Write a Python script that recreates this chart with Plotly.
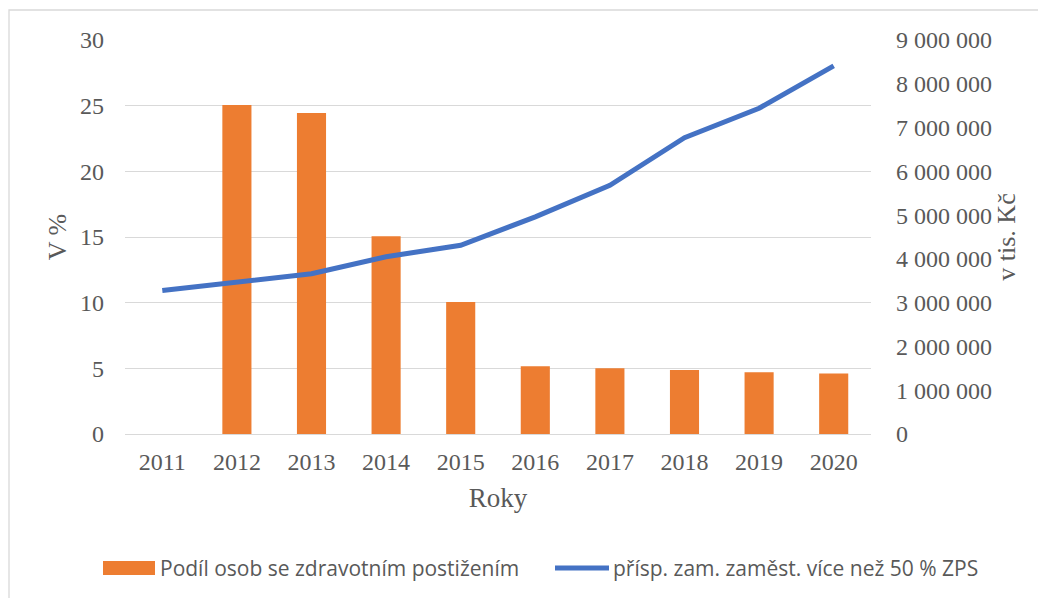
import plotly.graph_objects as go

years = ["2011", "2012", "2013", "2014", "2015", "2016", "2017", "2018", "2019", "2020"]
podil_zps = [None, 25.05, 24.45, 15.05, 10.05, 5.15, 5.0, 4.88, 4.7, 4.6]
prispevek = [3280000, 3470000, 3660000, 4050000, 4310000, 4960000, 5680000, 6770000, 7440000, 8410000]

bar_name = "Podíl osob se zdravotním postižením"
line_name = "přísp. zam. zaměst. více než 50 % ZPS"
left_title = "V %"
right_title = "v tis. Kč"
x_title = "Roky"

ORANGE = "#ED7D31"
BLUE = "#4472C4"
GRID = "#D9D9D9"
TXT = "#595959"
SERIF = "Liberation Serif, Times New Roman, serif"

fig = go.Figure()
fig.add_trace(go.Bar(x=years, y=podil_zps, name=bar_name, marker_color=ORANGE,
                     marker_line_width=0, yaxis="y"))
fig.add_trace(go.Scatter(x=years, y=prispevek, name=line_name, mode="lines",
                         line=dict(color=BLUE, width=5), yaxis="y2"))

# page body has an 8px margin, so the figure is placed at (8, 8) on screen
OFF = 8
W, H = 1046 - OFF, 598 - OFF
L, T = 125 - OFF, 40 - OFF
R = W - (871 - OFF)
B = H - (434 - OFF)
pw, ph = W - L - R, H - T - B

def px(x):  # screen x -> paper
    return (x - OFF - L) / pw

def py(y):  # screen y -> paper
    return (H - B - (y - OFF)) / ph

fig.update_layout(
    width=W, height=H,
    margin=dict(l=L, r=R, t=T, b=B),
    paper_bgcolor="white", plot_bgcolor="white",
    separators=", ",
    showlegend=False,
    bargap=0.61,
    xaxis=dict(type="category", showgrid=False, showline=False, zeroline=False,
               ticks="", tickfont=dict(family=SERIF, size=24, color=TXT),
               ticklabelstandoff=11,
               title=dict(text=x_title, font=dict(family=SERIF, size=27, color=TXT), standoff=14)),
    yaxis=dict(range=[0, 30], dtick=5, showgrid=True, gridcolor=GRID, gridwidth=1.3,
               zeroline=True, zerolinecolor=GRID, zerolinewidth=1.3, showline=False,
               ticks="", tickfont=dict(family=SERIF, size=24, color=TXT),
               ticklabelstandoff=20,
               title=dict(text=left_title, font=dict(family=SERIF, size=26, color=TXT), standoff=5)),
    yaxis2=dict(range=[0, 9000000], dtick=1000000, overlaying="y", side="right",
                showgrid=False, zeroline=False, showline=False, ticks="",
                tickformat=",d", tickfont=dict(family=SERIF, size=24, color=TXT),
                ticklabelstandoff=24,
                title=dict(text=right_title, font=dict(family=SERIF, size=26, color=TXT), standoff=4)),
)

# chart border (outer frame)
fig.add_shape(type="rect", xref="paper", yref="paper",
              x0=px(9), x1=px(1200), y0=py(10), y1=py(700),
              line=dict(color=GRID, width=1.3), fillcolor="rgba(0,0,0,0)", layer="below")

# custom legend
ly = py(568)
fig.add_shape(type="rect", xref="paper", yref="paper",
              x0=px(103), x1=px(155), y0=py(561), y1=py(575),
              fillcolor=ORANGE, line_width=0)
fig.add_annotation(xref="paper", yref="paper", x=px(158), y=ly, xanchor="left", yanchor="middle",
                   text=bar_name, showarrow=False,
                   font=dict(family="Open Sans, sans-serif", size=21, color=TXT))
fig.add_shape(type="line", xref="paper", yref="paper",
              x0=px(555), x1=px(609), y0=ly, y1=ly,
              line=dict(color=BLUE, width=5))
fig.add_annotation(xref="paper", yref="paper", x=px(611), y=ly, xanchor="left", yanchor="middle",
                   text=line_name, showarrow=False,
                   font=dict(family="Open Sans, sans-serif", size=21, color=TXT))

fig.write_html("out.html")
